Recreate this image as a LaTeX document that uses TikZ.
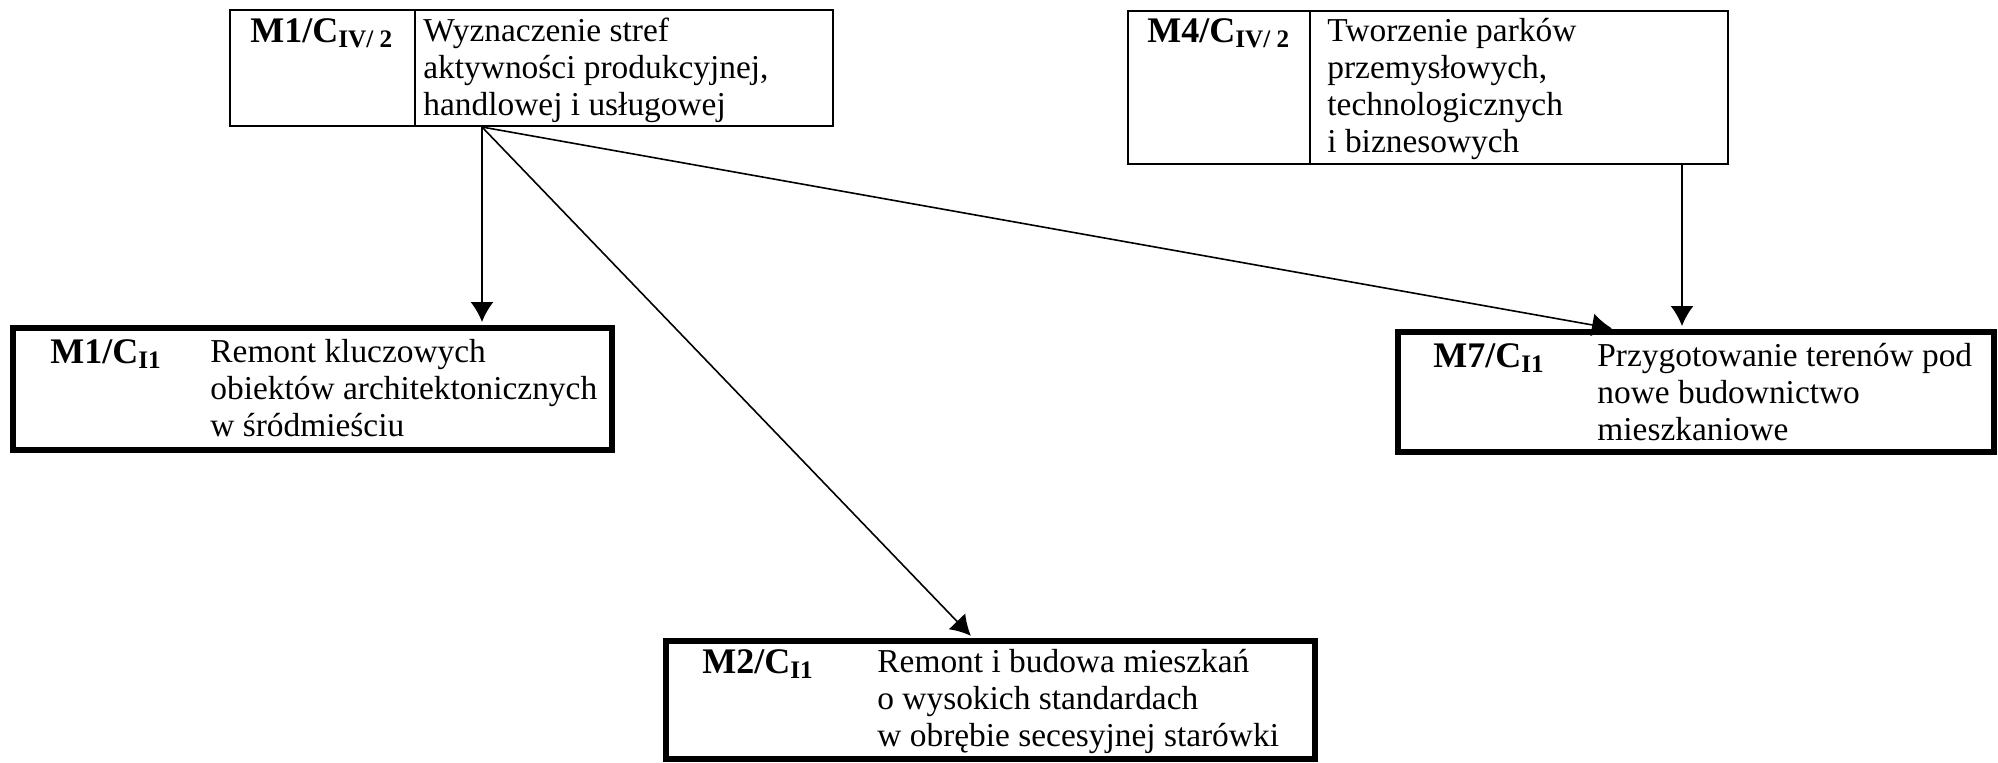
\documentclass[tikz,border=0pt]{standalone}
\usepackage{fontspec}
\setmainfont{Liberation Serif}
\usetikzlibrary{arrows.meta}
\begin{document}
\begin{tikzpicture}[x=0.5pt,y=-0.5pt,>={Latex[length=10pt,width=11.5pt]},
        thinbox/.style={draw,line width=1pt,inner sep=0pt},
        thickbox/.style={draw,line width=3pt,inner sep=0pt},
        code/.style={anchor=north west,inner sep=0pt,font=\fontsize{18}{18.5}\selectfont\bfseries},
        desc/.style={anchor=north west,inner sep=0pt,align=left,font=\fontsize{16.7}{18.5}\selectfont},
        link/.style={->,line width=0.8pt,shorten >=1.5pt}]
    \useasboundingbox (0,0) rectangle (1998,762);
    % upper boxes
    \node[thinbox,minimum width=301.5pt,minimum height=58pt] (m1iv) at (531.5,68) {};
    \draw[line width=1pt] (415,0 |- m1iv.north) -- (415,0 |- m1iv.south);
    \node[code] (m1iv-code) at (250,18) {M1/C\textsubscript{IV/ 2}};
    \node[desc] (m1iv-text) at (423,18) {Wyznaczenie stref\\aktywności produkcyjnej,\\handlowej i usługowej};
    \node[thinbox,minimum width=300pt,minimum height=76.5pt] (m4iv) at (1428,87.5) {};
    \draw[line width=1pt] (1310,0 |- m4iv.north) -- (1310,0 |- m4iv.south);
    \node[code] (m4iv-code) at (1147,18) {M4/C\textsubscript{IV/ 2}};
    \node[desc] (m4iv-text) at (1327,18) {Tworzenie parków\\przemysłowych,\\technologicznych\\i biznesowych};
    % lower boxes
    \node[thickbox,minimum width=299.5pt,minimum height=61pt] (m1i) at (312.5,389) {};
    \node[code] (m1i-code) at (50,339) {M1/C\textsubscript{I1}};
    \node[desc] (m1i-text) at (210,339) {Remont kluczowych\\obiektów architektonicznych\\w śródmieściu};
    \node[thickbox,minimum width=298pt,minimum height=60pt] (m7i) at (1696,392) {};
    \node[code] (m7i-code) at (1433,343) {M7/C\textsubscript{I1}};
    \node[desc] (m7i-text) at (1597,343) {Przygotowanie terenów pod\\nowe budownictwo\\mieszkaniowe};
    \node[thickbox,minimum width=324.5pt,minimum height=59pt] (m2i) at (990.5,700) {};
    \node[code] (m2i-code) at (702,649) {M2/C\textsubscript{I1}};
    \node[desc] (m2i-text) at (877,649) {Remont i budowa mieszkań\\o wysokich standardach\\w obrębie secesyjnej starówki};
    % arrows
    \coordinate (m1iv-out) at (482,0 |- m1iv.south);
    \draw[link] (m1iv-out) -- (m1iv-out |- m1i.north);
    \draw[link] (m1iv-out) -- (973,0 |- m2i.north);
    \draw[link] (m1iv-out) -- (1615,0 |- m7i.north);
    \draw[link] (1682,0 |- m4iv.south) -- (1682,0 |- m7i.north);
\end{tikzpicture}
\end{document}
